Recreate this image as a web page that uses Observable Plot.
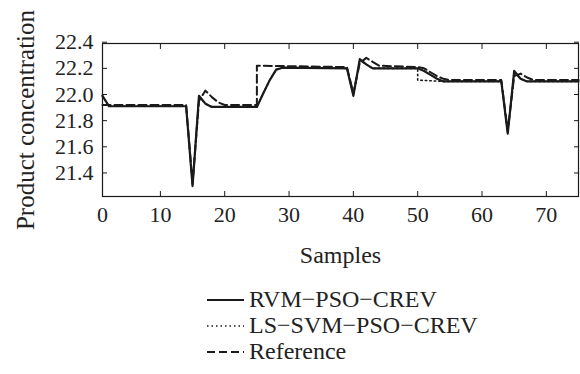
<!DOCTYPE html>
<html><head><meta charset="utf-8">
<script src="https://cdn.jsdelivr.net/npm/d3@7"></script>
<script src="https://cdn.jsdelivr.net/npm/@observablehq/plot@0.6"></script>
<style>
body{margin:0;background:#fff;font-family:"Liberation Serif","Times New Roman",serif;color:#222}
#legend{position:relative;height:99px;width:580px}
.row{position:absolute;left:207px;height:27px;display:flex;align-items:center;font-size:24px;white-space:nowrap}
.row svg{margin-right:5px}
</style></head><body>
<div id="chart"></div>
<div id="legend"></div>
<script>
// ---- data ----
const seriesNames = ["RVM\u2212PSO\u2212CREV", "LS\u2212SVM\u2212PSO\u2212CREV", "Reference"];

const rvmX = [1, 2, 14, 15, 16, 17, 18, 25, 26, 27, 28, 29, 39, 40, 41, 42, 43, 50, 51, 52, 53, 54, 63, 64, 65, 66, 67, 75];
const rvmY = [21.99, 21.91, 21.91, 21.30, 21.99, 21.93, 21.905, 21.905, 22.01, 22.11, 22.19, 22.205, 22.20, 21.99, 22.27, 22.23, 22.20, 22.20, 22.18, 22.15, 22.12, 22.10, 22.10, 21.70, 22.18, 22.12, 22.10, 22.10];

const lssvmX = [1, 2, 14, 15, 16, 17, 18, 25, 26, 27, 28, 29, 39, 40, 41, 42, 43, 50, 50, 54, 63, 64, 65, 66, 67, 75];
const lssvmY = [21.99, 21.91, 21.91, 21.31, 21.98, 21.93, 21.905, 21.905, 22.01, 22.11, 22.19, 22.205, 22.20, 22.00, 22.26, 22.23, 22.20, 22.20, 22.11, 22.10, 22.10, 21.71, 22.17, 22.12, 22.10, 22.10];

const refX = [1, 14, 15, 16, 17, 18, 19, 20, 25, 25, 39, 40, 41, 42, 43, 44, 50, 51, 52, 53, 54, 55, 63, 64, 65, 66, 67, 68, 75];
const refY = [21.92, 21.92, 21.32, 21.95, 22.03, 21.98, 21.94, 21.92, 21.92, 22.22, 22.21, 22.01, 22.24, 22.28, 22.25, 22.22, 22.21, 22.20, 22.17, 22.14, 22.12, 22.11, 22.11, 21.72, 22.14, 22.16, 22.13, 22.11, 22.11];

const xTicks = [1, 10, 20, 30, 40, 50, 60, 70];
const xTickLabels = ["0", "10", "20", "30", "40", "50", "60", "70"];
const yTicks = [21.4, 21.6, 21.8, 22.0, 22.2, 22.4];

const xLabel = "Samples";
const yLabel = "Product concentration";

// ---- build tables ----
const toRows = (xs, ys) => xs.map((x, i) => ({x, y: ys[i]}));
const rvm = toRows(rvmX, rvmY);
const lssvm = toRows(lssvmX, lssvmY);
const ref = toRows(refX, refY);

const ink = "#1a1a1a";
const styles = [
  {stroke: ink, strokeWidth: 2.2, strokeDasharray: null},
  {stroke: ink, strokeWidth: 1.6, strokeDasharray: "1.5,3"},
  {stroke: ink, strokeWidth: 2, strokeDasharray: "8,4"}
];

const chart = Plot.plot({
  width: 580,
  height: 275,
  marginLeft: 102,
  marginRight: 2,
  marginTop: 43,
  marginBottom: 79,
  style: {fontFamily: "'Liberation Serif','Times New Roman',serif", color: "#222", background: "#fff", overflow: "visible"},
  x: {domain: [1, 75]},
  y: {domain: [21.22, 22.39]},
  marks: [
    // inward ticks on all four sides
    Plot.axisX(xTicks, {anchor: "bottom", tickSize: -5, tickFormat: () => "", label: null, stroke: ink}),
    Plot.axisX(xTicks, {anchor: "top", tickSize: -5, tickFormat: () => "", label: null, stroke: ink}),
    Plot.axisY(yTicks, {anchor: "left", tickSize: -5, tickFormat: () => "", label: null, stroke: ink}),
    Plot.axisY(yTicks, {anchor: "right", tickSize: -5, tickFormat: () => "", label: null, stroke: ink}),
    // tick labels
    Plot.axisX(xTicks, {anchor: "bottom", tickSize: 0, tickPadding: 10, tickFormat: (d, i) => xTickLabels[i], label: null, fontSize: 22, fill: "#222"}),
    Plot.axisY(yTicks, {anchor: "left", tickSize: 0, tickPadding: 9, tickFormat: d => d.toFixed(1), label: null, fontSize: 22, fill: "#222"}),
    // axis titles
    Plot.text([xLabel], {frameAnchor: "bottom", dy: 66, fontSize: 24, fill: "#222", text: d => d}),
    Plot.text([yLabel], {frameAnchor: "left", dx: -77, rotate: -90, textAnchor: "middle", fontSize: 25, fill: "#222", text: d => d}),
    // series
    Plot.line(lssvm, {x: "x", y: "y", ...styles[1]}),
    Plot.line(ref, {x: "x", y: "y", ...styles[2]}),
    Plot.line(rvm, {x: "x", y: "y", ...styles[0]}),
    Plot.frame({stroke: ink, strokeWidth: 1.2})
  ]
});
document.getElementById("chart").appendChild(chart);

// ---- legend below ----
const legend = d3.select("#legend");
const rowTops = [11, 37, 63];
seriesNames.forEach((name, i) => {
  const row = legend.append("div").attr("class", "row").style("top", rowTops[i] + "px");
  const sw = row.append("svg").attr("width", 37).attr("height", 10);
  sw.append("line").attr("x1", 0).attr("x2", 37).attr("y1", 5).attr("y2", 5)
    .attr("stroke", styles[i].stroke).attr("stroke-width", styles[i].strokeWidth)
    .attr("stroke-dasharray", styles[i].strokeDasharray);
  row.append("span").text(name);
});
</script>
</body></html>
